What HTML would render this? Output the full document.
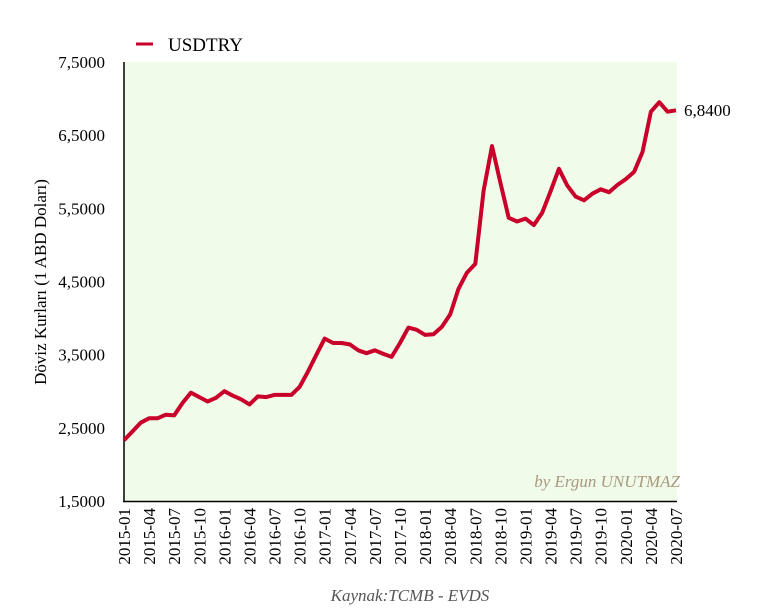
<!DOCTYPE html>
<html><head><meta charset="utf-8"><style>
body{margin:0;background:#fff;}
svg{display:block;font-family:"Liberation Serif",serif;}
</style></head><body>
<svg id="s" width="768" height="616" viewBox="0 0 768 616">
<rect x="124" y="62" width="553" height="439" fill="#f1fbe9"/>
<line x1="124" y1="62" x2="124" y2="502" stroke="#000" stroke-width="1.5"/>
<line x1="123" y1="501.5" x2="677" y2="501.5" stroke="#000" stroke-width="1.5"/>
<line x1="136" y1="44" x2="153" y2="44" stroke="#c8002a" stroke-width="3"/>
<text x="168" y="51" font-size="19" fill="#000">USDTRY</text>
<text transform="translate(46,282) rotate(-90)" text-anchor="middle" font-size="17">Döviz Kurları  (1 ABD Doları)</text>
<text x="680" y="487" text-anchor="end" font-size="17" font-style="italic" fill="#a89a80">by Ergun UNUTMAZ</text>
<text x="410" y="601" text-anchor="middle" font-size="17" font-style="italic" fill="#555">Kaynak:TCMB - EVDS</text>
<text x="684" y="116" font-size="17">6,8400</text>
<g id="g"></g>
</svg>
<script>
var d=[2.33,2.45,2.57,2.63,2.63,2.68,2.67,2.84,2.98,2.92,2.86,2.91,
3.00,2.94,2.89,2.82,2.93,2.92,2.95,2.95,2.95,3.06,3.27,3.50,
3.72,3.66,3.66,3.64,3.56,3.52,3.56,3.51,3.47,3.66,3.87,3.84,
3.77,3.78,3.88,4.05,4.40,4.62,4.74,5.74,6.35,5.85,5.37,5.32,
5.36,5.27,5.44,5.73,6.04,5.81,5.66,5.61,5.70,5.76,5.72,5.82,
5.90,6.00,6.27,6.82,6.95,6.82,6.84];
var x0=124,dx=552/66,y=v=>501-(v-1.5)*73.17,h='';
var pts=d.map((v,i)=>(x0+i*dx).toFixed(1)+','+y(v).toFixed(1)).join(' ');
h+='<polyline points="'+pts+'" fill="none" stroke="#c8002a" stroke-width="4" stroke-linejoin="round"/>';
['1,5000','2,5000','3,5000','4,5000','5,5000','6,5000','7,5000'].forEach((t,i)=>{
 h+='<text x="105" y="'+(y(1.5+i)+6)+'" text-anchor="end" font-size="17">'+t+'</text>';});
for(var i=0;i<67;i+=3){var yr=2015+Math.floor(i/12),m=i%12+1;
 var lx=x0+i*dx+6;
 h+='<text transform="translate('+lx+',508) rotate(-90)" text-anchor="end" font-size="17">'+yr+'-'+(m<10?'0':'')+m+'</text>';}
document.getElementById('g').innerHTML=h;
</script>
</body></html>
